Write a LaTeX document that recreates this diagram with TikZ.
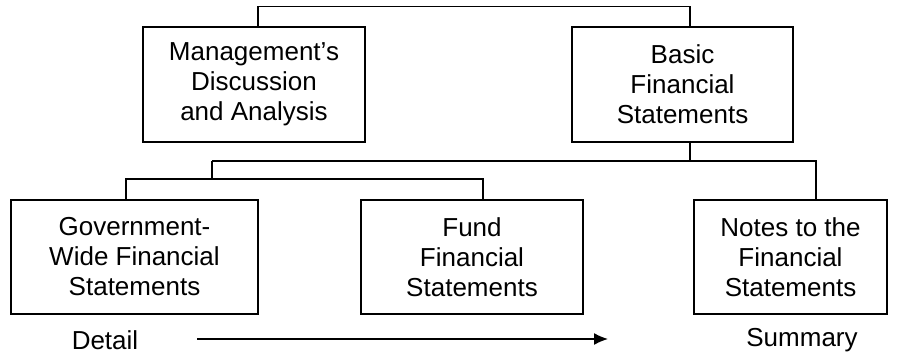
\documentclass[tikz,border=0pt]{standalone}
\usepackage{fontspec}
\setmainfont{Liberation Sans}
\usetikzlibrary{arrows.meta}
\begin{document}
\begin{tikzpicture}[x=1pt, y=-1pt, line width=1.4pt,
		box/.style={draw, align=center, inner sep=0pt, font=\fontsize{26}{30}\selectfont},
		lbl/.style={font=\fontsize{26}{30}\selectfont}]
		\useasboundingbox (0,0) rectangle (905,358);
		% top row
		\node[box, minimum width=222pt, minimum height=115pt] (mda) at (254,84.5) {Management's\\Discussion\\and Analysis};
		\node[box, minimum width=221pt, minimum height=115pt] (bfs) at (682.5,84.5) {Basic\\Financial\\Statements};
		% bottom row
		\node[box, minimum width=247pt, minimum height=114pt] (gov) at (134.5,257) {Government-\\Wide Financial\\Statements};
		\node[box, minimum width=222pt, minimum height=114pt] (fund) at (472,257) {Fund\\Financial\\Statements};
		\node[box, minimum width=193pt, minimum height=114pt] (notes) at (790.5,257) {Notes to the\\Financial\\Statements};
		\node[lbl] (detail) at (105,340) {Detail};
		\node[lbl] (summary) at (802,340) {Summary};
		\coordinate (fork) at (212,161);
		\coordinate (subfork) at (212,179);
		\coordinate (from) at (197,339);
		\coordinate (to) at (608,339);
		% connectors
		\draw ([xshift=4pt]mda.north) -- ++(0,-20) -| ([xshift=7.5pt]bfs.north);
		\draw ([xshift=7.5pt]bfs.south) -- ([xshift=7.5pt]bfs.south |- fork);
		\draw (fork) -| ([xshift=25.5pt]notes.north);
		\draw (fork) -- (subfork);
		\draw ([xshift=-8.5pt]gov.north) |- (subfork) -| ([xshift=11pt]fund.north);
		\draw [-{Latex[length=14pt, width=12pt]}] (from) -- (to);
	\end{tikzpicture}
\end{document}
